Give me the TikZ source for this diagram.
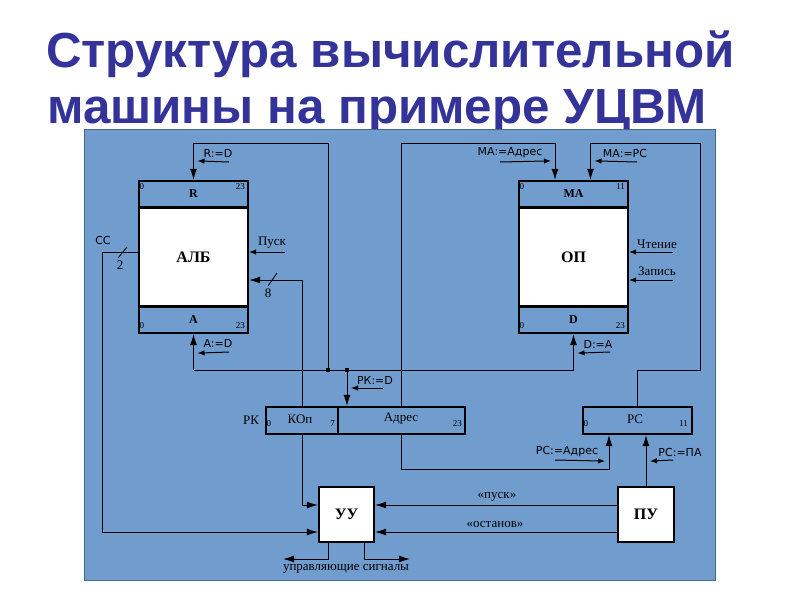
\documentclass[tikz,border=0pt]{standalone}
\usepackage{fontspec}
\setmainfont{Liberation Serif}
\newfontfamily\titlefont{Liberation Sans}
\newfontfamily\lblfont{DejaVu Sans}
\usetikzlibrary{arrows.meta,calc}
\definecolor{panel}{RGB}{112,156,206}
\definecolor{panelborder}{RGB}{70,100,140}
\definecolor{titleblue}{RGB}{51,51,153}
\begin{document}
\begin{tikzpicture}[x=1pt,y=-1pt,
  reg/.style={draw=black,line width=2.2pt,inner sep=0pt,minimum width=109pt,minimum height=26pt,font=\bfseries\fontsize{12}{13}\selectfont},
  bodybox/.style={reg,fill=white,minimum height=99pt,font=\bfseries\fontsize{16}{17}\selectfont},
  fld/.style={draw=black,line width=2.2pt,inner sep=0pt,minimum height=27pt,font=\fontsize{12}{13}\selectfont},
  unit/.style={draw=black,line width=2.2pt,fill=white,inner sep=0pt,minimum width=55pt,minimum height=55pt,font=\bfseries\fontsize{16}{17}\selectfont},
  conn/.style={line width=1pt},
  dataarr/.style={conn,-{Latex[length=11pt,width=7pt]}},
  ctl/.style={conn,-{Latex[length=7pt,width=5.5pt]}},
  lbl/.style={font=\lblfont\fontsize{11}{12}\selectfont,inner sep=0pt},
  sl/.style={font=\fontsize{13}{14}\selectfont,inner sep=0pt},
  bit/.style={font=\fontsize{9}{10}\selectfont,inner sep=0pt},
  dot/.style={fill=black,inner sep=0pt,minimum size=4pt},
  tick/.style={line width=0.8pt}]
\useasboundingbox (0,0) rectangle (800,600);
% title
\node[anchor=base west,inner sep=0pt,text=titleblue,font=\titlefont\bfseries\fontsize{49.3}{52}\selectfont] (t1) at (46,67) {Структура вычислительной};
\node[anchor=base west,inner sep=0pt,text=titleblue,font=\titlefont\bfseries\fontsize{49.3}{52}\selectfont] (t2) at (47,123) {машины на примере УЦВМ};
% panel
\node[draw=panelborder,fill=panel,line width=1pt,inner sep=0pt,minimum width=631pt,minimum height=451pt] (panel) at (399.5,354.5) {};
% ALU
\node[reg] (R) at (193.5,194) {R};
\node[bodybox] (alub) at (193.5,257) {АЛБ};
\node[reg] (A) at (193.5,320) {A};
% OP
\node[reg] (MA) at (573.5,194) {MA};
\node[bodybox] (op) at (573.5,257) {ОП};
\node[reg] (D) at (573.5,320) {D};
% RK
\node[fld,minimum width=72pt] (kop) at (302,420.5) {};
\node[fld,minimum width=127pt] (adr) at (401.5,420.5) {};
\node[sl] (kopt) at (300,419) {КОп};
\node[sl] (adrt) at (401,419) {Адрес};
\node[sl] (rkl) at (251,420) {РК};
% PC
\node[fld,minimum width=109pt] (PC) at (637.5,420.5) {};
\node[sl] (pct) at (635,419) {PC};
% units
\node[unit] (UU) at (346.5,514.5) {УУ};
\node[unit,minimum width=56pt] (PU) at (646,514.5) {ПУ};
% bit numbers
\node[bit,anchor=north west] (b1) at ($(R.north west)+(1.5,3)$) {0};
\node[bit,anchor=north east] (b2) at ($(R.north east)+(-4,3)$) {23};
\node[bit,anchor=south west] (b3) at ($(A.south west)+(1.5,-5)$) {0};
\node[bit,anchor=south east] (b4) at ($(A.south east)+(-4,-5)$) {23};
\node[bit,anchor=north west] (b5) at ($(MA.north west)+(1.5,3)$) {0};
\node[bit,anchor=north east] (b6) at ($(MA.north east)+(-4,3)$) {11};
\node[bit,anchor=south west] (b7) at ($(D.south west)+(1.5,-5)$) {0};
\node[bit,anchor=south east] (b8) at ($(D.south east)+(-4,-5)$) {23};
\node[bit,anchor=west] (b9) at ($(kop.west)+(1.5,3.5)$) {0};
\node[bit,anchor=east] (b10) at ($(kop.east)+(-4,3.5)$) {7};
\node[bit,anchor=east] (b11) at ($(adr.east)+(-4,3.5)$) {23};
\node[bit,anchor=west] (b12) at ($(PC.west)+(1.5,3.5)$) {0};
\node[bit,anchor=east] (b13) at ($(PC.east)+(-5,3.5)$) {11};
% coordinates
\coordinate (topline) at (0,143);
\coordinate (bus) at (0,370);
\coordinate (j1) at (328,370);
\coordinate (j2) at (347,370);
\coordinate (y469) at (0,469);
\coordinate (y505) at (0,505);
\coordinate (y532) at (0,532);
\coordinate (maL) at ($(MA.north)+(-18.5,0)$);
\coordinate (maR) at ($(MA.north)+(17,0)$);
\coordinate (rb) at (700,370);
\coordinate (rt) at (700,143);
\coordinate (pcA) at ($(PC.south)+(-28.5,0)$);
\coordinate (pcB) at ($(PC.south)+(8.5,0)$);
\coordinate (ccs) at ($(alub.west)+(0,-5)$);
\coordinate (ccl) at (102,252);
\coordinate (us1) at ($(UU.south)+(-18.5,0)$);
\coordinate (us2) at ($(UU.south)+(17.5,0)$);
\coordinate (o1) at (283,559);
\coordinate (o2) at (410,559);
% data connectors
\draw[dataarr] (j1) -- (j1 |- topline) -| (R.north);
\draw[conn] (A.south |- bus) -- (D.south |- bus);
\draw[dataarr] (A.south |- bus) -- (A.south);
\draw[dataarr] (D.south |- bus) -- (D.south);
\draw[dataarr] (j2) -- (j2 |- adr.north);
\node[dot] (d1) at (j1) {};
\node[dot] (d2) at (j2) {};
\draw[dataarr] (kop.north) |- ($(alub.east)+(0,23)$);
\draw[dataarr] (kop.south) |- (UU.west |- y505);
\draw[dataarr] (ccs) -- (ccl) |- (UU.west |- y532);
\draw[dataarr] (adr.north) -- (adr.north |- topline) -| (maL);
\draw[dataarr] (PC.north) |- (rb) -- (rt) -| (maR);
\draw[dataarr] (adr.south) |- (pcA |- y469) -- (pcA);
\draw[dataarr] (PU.north) -- (pcB);
\draw[dataarr] (PU.west |- y505) -- (UU.east |- y505);
\draw[dataarr] (PU.west |- y532) -- (UU.east |- y532);
\draw[dataarr] (us1) |- (o1);
\draw[dataarr] (us2) |- (o2);
% ticks
\draw[tick] (268,286) -- (277,273);
\node[sl] (n8) at (268,293) {8};
\draw[tick] (118,258) -- (127,247);
\node[sl] (n2) at (120,265) {2};
\node[lbl] (cc) at (103,240) {CC};
% control signals
\coordinate (c1) at (229,162);
\draw[ctl] (c1) -- ($(R.north)+(4,-19)$);
\node[lbl] (l1) at (218,153) {R:=D};
\coordinate (c2) at (229,352);
\draw[ctl] (c2) -- ($(A.south)+(4,19)$);
\node[lbl] (l2) at (218,343) {A:=D};
\coordinate (c3) at (610,352);
\draw[ctl] (c3) -- ($(D.south)+(4,19)$);
\node[lbl] (l3) at (598,344) {D:=A};
\coordinate (c4) at (383,388);
\draw[ctl] (c4) -- ($(j2)+(4,18)$);
\node[lbl] (l4) at (375,380) {РК:=D};
\coordinate (c5) at (500,162);
\draw[ctl] (c5) -- ($(maL)+(-4,-19)$);
\node[lbl] (l5) at (510,153) {MA:=Адрес};
\coordinate (c6) at (637,162);
\draw[ctl] (c6) -- ($(maR)+(4,-19)$);
\node[lbl] (l6) at (625,153) {MA:=PC};
\coordinate (c7) at (555,460);
\draw[ctl] (c7) -- ($(pcA)+(-4,26)$);
\node[lbl] (l7) at (567,452) {PC:=Адрес};
\coordinate (c8) at (673,460);
\draw[ctl] (c8) -- ($(pcB)+(4,26)$);
\node[lbl] (l8) at (680,452) {PC:=ПА};
\coordinate (c9) at (285,252);
\draw[ctl] (c9) -- ($(alub.east)+(0,-5)$);
\node[sl] (l9) at (272,243) {Пуск};
\coordinate (c10) at (673,252);
\draw[ctl] (c10) -- ($(op.east)+(0,-5)$);
\node[sl] (l10) at (657,244) {Чтение};
\coordinate (c11) at (673,280);
\draw[ctl] (c11) -- ($(op.east)+(0,23)$);
\node[sl] (l11) at (657,271) {Запись};
\node[sl] (l12) at (497,497) {«пуск»};
\node[sl] (l13) at (495,524) {«останов»};
\node[sl] (l14) at (346,569) {управляющие сигналы};
\end{tikzpicture}
\end{document}
